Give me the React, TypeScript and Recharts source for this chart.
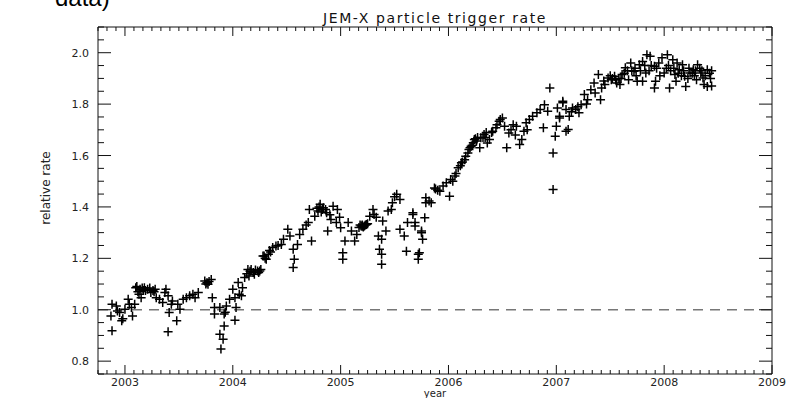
import { ReferenceLine, Scatter, ScatterChart, XAxis, YAxis } from "recharts";

// [year, relative rate]
const pts2002: [number, number][] = [
  [2002.87, 0.976], [2002.88, 1.021], [2002.88, 0.918], [2002.92, 1.015],
  [2002.93, 0.995], [2002.95, 0.989], [2002.97, 0.957], [2002.98, 0.965],
];

const pts2003: [number, number][] = [
  [2003.0, 1.002], [2003.03, 1.041], [2003.04, 1.021], [2003.06, 1.009], [2003.07, 0.976],
  [2003.09, 1.021], [2003.1, 1.086], [2003.11, 1.09], [2003.12, 1.07], [2003.13, 1.06],
  [2003.14, 1.08], [2003.15, 1.047], [2003.16, 1.085], [2003.17, 1.075], [2003.18, 1.086],
  [2003.19, 1.075], [2003.21, 1.08], [2003.23, 1.085], [2003.24, 1.067], [2003.26, 1.075],
  [2003.27, 1.07], [2003.28, 1.08], [2003.29, 1.047], [2003.32, 1.041], [2003.35, 1.028],
  [2003.37, 1.067], [2003.38, 1.08], [2003.4, 1.054], [2003.4, 0.914], [2003.41, 0.989],
  [2003.43, 1.021], [2003.44, 1.034], [2003.48, 0.957], [2003.49, 1.021], [2003.51, 1.002],
  [2003.54, 1.041], [2003.57, 1.047], [2003.6, 1.054], [2003.63, 1.06], [2003.65, 1.047],
  [2003.68, 1.067], [2003.74, 1.112], [2003.75, 1.1], [2003.76, 1.105], [2003.77, 1.099],
  [2003.78, 1.11], [2003.8, 1.118], [2003.81, 1.047], [2003.83, 1.009], [2003.83, 0.983],
  [2003.88, 1.009], [2003.88, 0.905], [2003.89, 0.847], [2003.91, 0.885], [2003.92, 0.983],
  [2003.92, 0.937], [2003.93, 0.99], [2003.94, 1.015], [2003.97, 1.041],
];

const pts2004: [number, number][] = [
  [2004.0, 1.08], [2004.02, 1.047], [2004.02, 0.959], [2004.03, 1.009], [2004.05, 1.106],
  [2004.06, 1.06], [2004.08, 1.054], [2004.09, 1.086], [2004.11, 1.125], [2004.13, 1.14],
  [2004.14, 1.157], [2004.15, 1.131], [2004.16, 1.15], [2004.17, 1.157], [2004.19, 1.145],
  [2004.2, 1.138], [2004.21, 1.155], [2004.23, 1.151], [2004.24, 1.145], [2004.25, 1.151],
  [2004.26, 1.157], [2004.28, 1.209], [2004.29, 1.209], [2004.3, 1.2], [2004.31, 1.196],
  [2004.33, 1.216], [2004.34, 1.23], [2004.35, 1.225], [2004.37, 1.242], [2004.4, 1.248],
  [2004.42, 1.25], [2004.45, 1.254], [2004.47, 1.274], [2004.51, 1.313], [2004.53, 1.287],
  [2004.56, 1.235], [2004.57, 1.196], [2004.56, 1.164], [2004.6, 1.254], [2004.62, 1.293],
  [2004.65, 1.313], [2004.68, 1.33], [2004.7, 1.339], [2004.71, 1.39], [2004.73, 1.267],
  [2004.76, 1.364], [2004.78, 1.395], [2004.79, 1.384], [2004.8, 1.4], [2004.81, 1.41],
  [2004.82, 1.38], [2004.83, 1.39], [2004.84, 1.397], [2004.86, 1.39], [2004.87, 1.377],
  [2004.88, 1.306], [2004.9, 1.37], [2004.91, 1.351], [2004.93, 1.403], [2004.96, 1.339],
  [2004.97, 1.39], [2004.99, 1.36],
];

const pts2005: [number, number][] = [
  [2005.0, 1.319], [2005.02, 1.222], [2005.02, 1.196], [2005.04, 1.267], [2005.07, 1.339],
  [2005.1, 1.306], [2005.13, 1.267], [2005.15, 1.293], [2005.17, 1.32], [2005.18, 1.33],
  [2005.19, 1.326], [2005.2, 1.33], [2005.2, 1.325], [2005.21, 1.322], [2005.22, 1.326],
  [2005.23, 1.33], [2005.24, 1.332], [2005.25, 1.335], [2005.27, 1.364], [2005.3, 1.39],
  [2005.31, 1.371], [2005.33, 1.36], [2005.35, 1.287], [2005.36, 1.235], [2005.38, 1.274],
  [2005.38, 1.216], [2005.38, 1.177], [2005.39, 1.345], [2005.42, 1.306], [2005.44, 1.384],
  [2005.47, 1.39], [2005.48, 1.416], [2005.5, 1.44], [2005.52, 1.449], [2005.55, 1.429],
  [2005.55, 1.313], [2005.59, 1.287], [2005.61, 1.228], [2005.62, 1.339], [2005.67, 1.377],
  [2005.67, 1.371], [2005.69, 1.339], [2005.69, 1.326], [2005.72, 1.216], [2005.72, 1.196],
  [2005.73, 1.222], [2005.75, 1.306], [2005.75, 1.3], [2005.76, 1.274], [2005.78, 1.358],
  [2005.79, 1.416], [2005.79, 1.436], [2005.82, 1.423], [2005.84, 1.416], [2005.87, 1.474],
  [2005.88, 1.47], [2005.9, 1.465], [2005.92, 1.461], [2005.95, 1.481], [2005.98, 1.494],
];

const pts2006: [number, number][] = [
  [2006.01, 1.442], [2006.02, 1.507], [2006.04, 1.5], [2006.06, 1.52], [2006.07, 1.53],
  [2006.09, 1.552], [2006.11, 1.56], [2006.12, 1.572], [2006.13, 1.575], [2006.15, 1.584],
  [2006.16, 1.597], [2006.18, 1.61], [2006.19, 1.623], [2006.2, 1.63], [2006.21, 1.636],
  [2006.22, 1.64], [2006.23, 1.65], [2006.24, 1.662], [2006.25, 1.665], [2006.26, 1.656],
  [2006.27, 1.67], [2006.29, 1.63], [2006.3, 1.669], [2006.32, 1.67], [2006.33, 1.682],
  [2006.34, 1.67], [2006.35, 1.69], [2006.36, 1.649], [2006.38, 1.662], [2006.4, 1.69],
  [2006.41, 1.694], [2006.44, 1.708], [2006.45, 1.72], [2006.47, 1.733], [2006.48, 1.74],
  [2006.5, 1.746], [2006.52, 1.714], [2006.54, 1.63], [2006.56, 1.688], [2006.58, 1.7],
  [2006.6, 1.72], [2006.62, 1.68], [2006.63, 1.714], [2006.66, 1.643], [2006.68, 1.662],
  [2006.7, 1.694], [2006.72, 1.727], [2006.73, 1.7], [2006.75, 1.74], [2006.78, 1.753],
  [2006.82, 1.766], [2006.85, 1.779], [2006.88, 1.708], [2006.89, 1.798], [2006.92, 1.772],
  [2006.94, 1.863], [2006.97, 1.61], [2006.97, 1.468], [2006.99, 1.675],
];

const pts2007: [number, number][] = [
  [2007.0, 1.714], [2007.01, 1.785], [2007.03, 1.746], [2007.03, 1.753], [2007.06, 1.811],
  [2007.06, 1.805], [2007.09, 1.779], [2007.09, 1.694], [2007.11, 1.701], [2007.12, 1.753],
  [2007.14, 1.77], [2007.15, 1.785], [2007.18, 1.779], [2007.2, 1.79], [2007.21, 1.766],
  [2007.23, 1.798], [2007.26, 1.837], [2007.28, 1.8], [2007.29, 1.817], [2007.32, 1.856],
  [2007.35, 1.882], [2007.36, 1.843], [2007.39, 1.915], [2007.41, 1.817], [2007.42, 1.863],
  [2007.44, 1.89], [2007.45, 1.876], [2007.48, 1.902], [2007.5, 1.91], [2007.51, 1.895],
  [2007.52, 1.9], [2007.54, 1.908], [2007.55, 1.895], [2007.56, 1.882], [2007.58, 1.9],
  [2007.59, 1.876], [2007.6, 1.9], [2007.61, 1.915], [2007.63, 1.92], [2007.64, 1.941],
  [2007.66, 1.93], [2007.67, 1.895], [2007.69, 1.96], [2007.7, 1.93], [2007.72, 1.928],
  [2007.73, 1.94], [2007.74, 1.91], [2007.75, 1.889], [2007.77, 1.953], [2007.78, 1.93],
  [2007.8, 1.966], [2007.8, 1.889], [2007.82, 1.95], [2007.83, 1.921], [2007.84, 1.992],
  [2007.86, 1.93], [2007.87, 1.986], [2007.88, 1.95], [2007.91, 1.947], [2007.91, 1.863],
  [2007.92, 1.889], [2007.93, 1.94], [2007.95, 1.96], [2007.96, 1.91], [2007.98, 1.98],
];

const pts2008: [number, number][] = [
  [2008.0, 1.921], [2008.02, 1.94], [2008.03, 1.992], [2008.04, 1.95], [2008.05, 1.863],
  [2008.06, 1.93], [2008.08, 1.973], [2008.09, 1.94], [2008.1, 1.915], [2008.11, 1.889],
  [2008.12, 1.96], [2008.13, 1.92], [2008.14, 1.934], [2008.16, 1.91], [2008.17, 1.953],
  [2008.18, 1.93], [2008.19, 1.908], [2008.2, 1.869], [2008.22, 1.9], [2008.23, 1.94],
  [2008.24, 1.921], [2008.26, 1.92], [2008.27, 1.934], [2008.28, 1.91], [2008.29, 1.93],
  [2008.3, 1.895], [2008.31, 1.953], [2008.33, 1.94], [2008.34, 1.921], [2008.35, 1.93],
  [2008.36, 1.902], [2008.37, 1.876], [2008.38, 1.91], [2008.4, 1.934], [2008.4, 1.869],
  [2008.42, 1.92], [2008.43, 1.9], [2008.44, 1.93], [2008.44, 1.87],
];

const yearLabels = [2003, 2004, 2005, 2006, 2007, 2008, 2009];
const rateLabels = [0.8, 1.0, 1.2, 1.4, 1.6, 1.8, 2.0];
const X_DOMAIN: [number, number] = [2002.75, 2009];
const Y_DOMAIN: [number, number] = [0.75, 2.1];

const data = [...pts2002, ...pts2003, ...pts2004, ...pts2005, ...pts2006, ...pts2007, ...pts2008].map(
  ([year, rate]) => ({ year, rate })
);

// monthly minor ticks on x, 0.05 minor ticks on y
const monthTicks: number[] = [];
for (let m = 0; m <= 75; m++) monthTicks.push(+(X_DOMAIN[0] + m / 12).toFixed(4));
const rateTicks: number[] = [];
for (let k = 0; k <= 27; k++) rateTicks.push(+(Y_DOMAIN[0] + k * 0.05).toFixed(3));

const isMajorYear = (v: number) => yearLabels.some((y) => Math.abs(y - v) < 1e-3);
const isMajorRate = (v: number) => rateLabels.some((r) => Math.abs(r - v) < 1e-3);

const FONT = "'DejaVu Sans', sans-serif";
const INK = "#111";

function BottomTick(props: any) {
  const { x, y, payload } = props;
  const major = isMajorYear(payload.value);
  return (
    <g>
      <line x1={x} x2={x} y1={y} y2={y - (major ? 9 : 4)} stroke={INK} strokeWidth={1} />
      {major && (
        <text x={x} y={y + 12} textAnchor="middle" fontFamily={FONT} fontSize={11} fill="#222">
          {Math.round(payload.value)}
        </text>
      )}
    </g>
  );
}

function TopTick(props: any) {
  const { x, y, payload } = props;
  const major = isMajorYear(payload.value);
  return <line x1={x} x2={x} y1={y} y2={y + (major ? 9 : 4)} stroke={INK} strokeWidth={1} />;
}

function LeftTick(props: any) {
  const { x, y, payload } = props;
  const major = isMajorRate(payload.value);
  return (
    <g>
      <line x1={x} x2={x + (major ? 13 : 6)} y1={y} y2={y} stroke={INK} strokeWidth={1} />
      {major && (
        <text x={x - 9} y={y + 4} textAnchor="end" fontFamily={FONT} fontSize={11} fill="#222">
          {payload.value.toFixed(1)}
        </text>
      )}
    </g>
  );
}

function RightTick(props: any) {
  const { x, y, payload } = props;
  const major = isMajorRate(payload.value);
  return <line x1={x} x2={x - (major ? 13 : 6)} y1={y} y2={y} stroke={INK} strokeWidth={1} />;
}

function PlusMark(props: any) {
  const { cx, cy } = props;
  if (cx == null || cy == null) return <g />;
  return (
    <path
      d={`M${cx - 4.5},${cy}h9M${cx},${cy - 4.5}v9`}
      stroke="#000"
      strokeWidth={1.5}
      fill="none"
    />
  );
}

export default function App() {
  return (
    <div style={{ position: "absolute", left: 0, top: 0, width: 789, height: 398, background: "#fff" }}>
      <ScatterChart width={789} height={398} margin={{ top: 26, right: 16, bottom: 10, left: 38 }}>
        <XAxis
          xAxisId="b"
          dataKey="year"
          type="number"
          domain={X_DOMAIN}
          ticks={monthTicks}
          interval={0}
          tickSize={0}
          tickMargin={0}
          tickLine={false}
          tick={<BottomTick />}
          axisLine={{ stroke: INK }}
          height={14}
          allowDataOverflow
        />
        <XAxis
          xAxisId="t"
          orientation="top"
          dataKey="year"
          type="number"
          domain={X_DOMAIN}
          ticks={monthTicks}
          interval={0}
          tickSize={0}
          tickMargin={0}
          tickLine={false}
          tick={<TopTick />}
          axisLine={{ stroke: INK }}
          height={1}
          allowDataOverflow
        />
        <YAxis
          yAxisId="l"
          dataKey="rate"
          type="number"
          domain={Y_DOMAIN}
          ticks={rateTicks}
          interval={0}
          tickSize={0}
          tickMargin={0}
          tickLine={false}
          tick={<LeftTick />}
          axisLine={{ stroke: INK }}
          width={60}
          allowDataOverflow
        />
        <YAxis
          yAxisId="r"
          orientation="right"
          dataKey="rate"
          type="number"
          domain={Y_DOMAIN}
          ticks={rateTicks}
          interval={0}
          tickSize={0}
          tickMargin={0}
          tickLine={false}
          tick={<RightTick />}
          axisLine={{ stroke: INK }}
          width={1}
          allowDataOverflow
        />
        <ReferenceLine xAxisId="b" yAxisId="l" y={1} stroke="#777" strokeWidth={1.5} strokeDasharray="10 7" />
        <Scatter data={data} xAxisId="t" yAxisId="r" shape={() => <g />} isAnimationActive={false} />
        <Scatter data={data} xAxisId="b" yAxisId="l" shape={<PlusMark />} isAnimationActive={false} />
      </ScatterChart>
      <svg
        width={789}
        height={398}
        style={{ position: "absolute", left: 0, top: 0, pointerEvents: "none" }}
      >
        <text x={55} y={6} fontFamily="'Liberation Sans', Arial, sans-serif" fontSize={24} fill="#000">
          data)
        </text>
        <text x={435} y={23} textAnchor="middle" fontFamily={FONT} fontSize={14} letterSpacing={1.6} fill={INK}>
          JEM-X particle trigger rate
        </text>
        <text x={435} y={397} textAnchor="middle" fontFamily={FONT} fontSize={10} fill="#222">
          year
        </text>
        <text
          x={50}
          y={188}
          textAnchor="middle"
          fontFamily={FONT}
          fontSize={12}
          fill="#222"
          transform="rotate(-90 50 188)"
        >
          relative rate
        </text>
      </svg>
    </div>
  );
}
